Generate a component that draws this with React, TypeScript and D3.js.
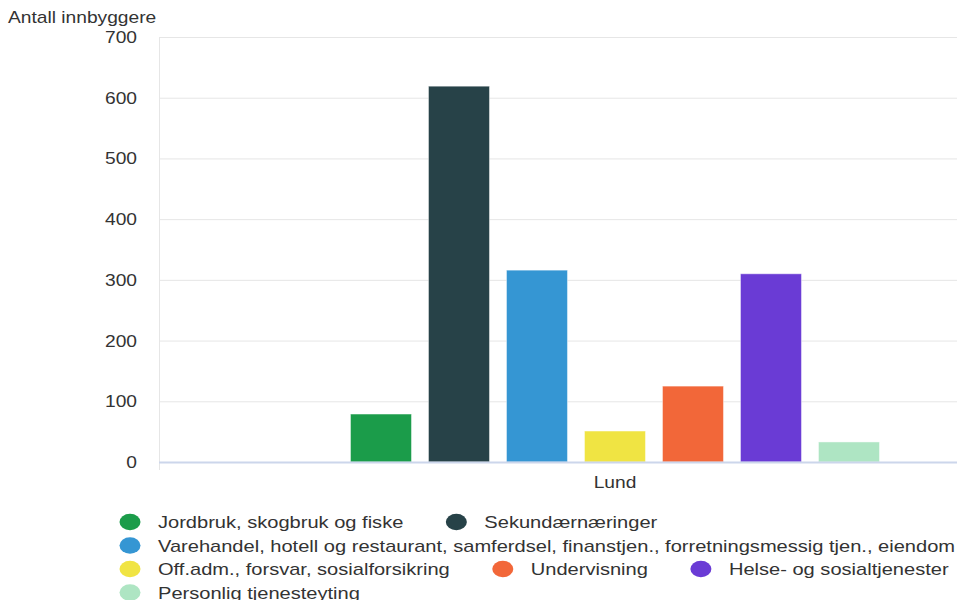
import React, { useEffect, useRef } from 'react';
import * as d3 from 'd3';

const categories = ['Lund'];
const seriesNames = [
    'Jordbruk, skogbruk og fiske',
    'Sekundærnæringer',
    'Varehandel, hotell og restaurant, samferdsel, finanstjen., forretningsmessig tjen., eiendom',
    'Off.adm., forsvar, sosialforsikring',
    'Undervisning',
    'Helse- og sosialtjenester',
    'Personlig tjenesteyting',
];
const seriesValues = [79, 619, 316, 51, 125, 310, 33];
const seriesColors = ['#1b9c4a', '#274248', '#3596d3', '#f0e443', '#f26739', '#6a3bd5', '#aee5c3'];
const yTicks = [0, 100, 200, 300, 400, 500, 600, 700];
const yTitle = 'Antall innbyggere';

// legend rows: indices into seriesNames
const legendRows = [[0, 1], [2], [3, 4, 5], [6]];

const W = 958;
const H = 600;
// the reference is stretched sideways, so text is widened to match
const AXIS_SX = 1.2;
const LEGEND_SX = 1.255;

export default function App() {
    const svgRef = useRef<SVGSVGElement>(null);

    useEffect(() => {
        if (!svgRef.current) return;
        const svg = d3.select(svgRef.current);
        svg.selectAll('*').remove();

        const font = '"Liberation Sans", Arial, sans-serif';
        const margin = { top: 37, right: 1, bottom: 138, left: 159 };
        const innerWidth = W - margin.left - margin.right;
        const innerHeight = H - margin.top - margin.bottom;

        const g = svg.append('g').attr('transform', `translate(${margin.left},${margin.top})`);

        const y = d3.scaleLinear().domain([0, 700]).range([innerHeight, 0]);
        const xCat = d3.scaleBand().domain(categories).range([0, innerWidth]);

        // gridlines
        g.selectAll('line.grid')
            .data(yTicks.filter(t => t > 0))
            .enter()
            .append('line')
            .attr('x1', 0)
            .attr('x2', innerWidth)
            .attr('y1', d => y(d) + 0.5)
            .attr('y2', d => y(d) + 0.5)
            .attr('stroke', '#e6e6e6')
            .attr('stroke-width', 1);

        // left axis line
        g.append('line')
            .attr('x1', 0.5)
            .attr('x2', 0.5)
            .attr('y1', 0)
            .attr('y2', innerHeight + 8)
            .attr('stroke', '#e6e6e6');

        // y tick labels
        g.selectAll('text.ytick')
            .data(yTicks)
            .enter()
            .append('text')
            .attr('transform', d => `translate(-22,${y(d) + 6}) scale(${AXIS_SX},1)`)
            .attr('text-anchor', 'end')
            .attr('fill', '#333333')
            .style('font-family', font)
            .style('font-size', '16px')
            .text(d => String(d));

        svg.append('text')
            .attr('transform', `translate(8,23) scale(${AXIS_SX},1)`)
            .attr('fill', '#333333')
            .style('font-family', font)
            .style('font-size', '16px')
            .text(yTitle);

        // bars, grouped within the single category
        const catStart = xCat(categories[0]) || 0;
        const xSeries = d3.scaleBand()
            .domain(seriesNames)
            .range([catStart + innerWidth * 0.2293, catStart + innerWidth * 0.9135])
            .paddingInner(0.218)
            .paddingOuter(0.109);

        g.selectAll('rect.bar')
            .data(seriesValues)
            .enter()
            .append('rect')
            .attr('x', (_, i) => xSeries(seriesNames[i]) || 0)
            .attr('y', d => y(d))
            .attr('width', xSeries.bandwidth())
            .attr('height', d => innerHeight - y(d))
            .attr('fill', (_, i) => seriesColors[i])
            .attr('stroke', 'rgba(255,255,255,0.45)')
            .attr('stroke-width', 1);

        // x axis line
        g.append('line')
            .attr('x1', 0)
            .attr('x2', innerWidth)
            .attr('y1', innerHeight + 0.5)
            .attr('y2', innerHeight + 0.5)
            .attr('stroke', '#ccd6eb')
            .attr('stroke-width', 2);

        const groupCenter = ((xSeries(seriesNames[0]) || 0) + (xSeries(seriesNames[seriesNames.length - 1]) || 0) + xSeries.bandwidth()) / 2;
        g.append('text')
            .attr('transform', `translate(${groupCenter},${innerHeight + 26}) scale(${AXIS_SX},1)`)
            .attr('text-anchor', 'middle')
            .attr('fill', '#333333')
            .style('font-family', font)
            .style('font-size', '16px')
            .text(categories[0]);

        // legend
        const legend = svg.append('g');
        const rowY = d3.scaleLinear().domain([0, 1]).range([522, 545.5]);
        const itemGap = 53;
        legendRows.forEach((row, r) => {
            let cx = 130;
            row.forEach(idx => {
                const item = legend.append('g').attr('transform', `translate(${cx},${rowY(r)})`);
                item.append('ellipse')
                    .attr('rx', 10.5)
                    .attr('ry', 8.3)
                    .attr('fill', seriesColors[idx]);
                const t = item.append('text')
                    .attr('transform', `translate(28,6) scale(${LEGEND_SX},1)`)
                    .attr('fill', '#333333')
                    .style('font-family', font)
                    .style('font-size', '16px')
                    .text(seriesNames[idx]);
                const tw = (t.node() as SVGTextElement).getComputedTextLength() * LEGEND_SX;
                cx += 28 + tw + itemGap;
            });
        });
    }, []);

    return (
        <svg
            ref={svgRef}
            width={W}
            height={H}
            style={{ position: 'absolute', left: 0, top: 0, background: '#ffffff' }}
        />
    );
}
